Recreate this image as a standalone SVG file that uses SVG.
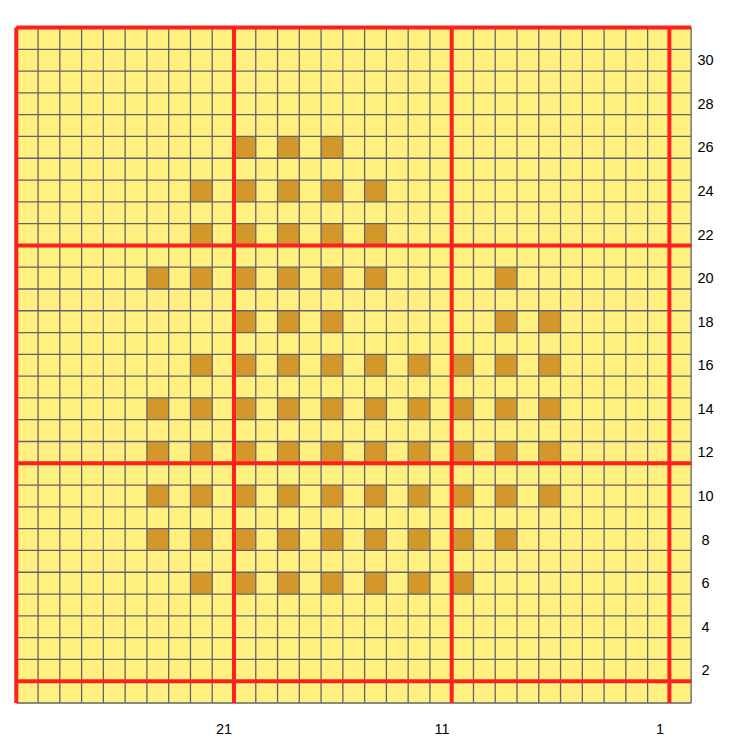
<svg xmlns="http://www.w3.org/2000/svg" width="731" height="747" viewBox="0 0 731 747">
<style>
.bg{fill:#fff07f}
.st{fill:#d4982a}
.grid{fill:none;stroke:#63636e;stroke-width:1.3}
.major{fill:none;stroke:#ff1f1f;stroke-width:4}
.lbl{font-family:"Liberation Sans",Arial,sans-serif;font-size:14.5px;fill:#000;text-anchor:middle}
</style>
<rect width="731" height="747" fill="#ffffff"/>
<g id="chart">
<rect class="bg" x="16.3" y="27.5" width="674.87" height="675.49"/>
<g id="stitches" class="st" transform="translate(16.3,27.5) scale(21.77,21.79)">
<rect x="10" y="5" width="1" height="1"/><rect x="12" y="5" width="1" height="1"/><rect x="14" y="5" width="1" height="1"/>
<rect x="8" y="7" width="1" height="1"/><rect x="10" y="7" width="1" height="1"/><rect x="12" y="7" width="1" height="1"/><rect x="14" y="7" width="1" height="1"/><rect x="16" y="7" width="1" height="1"/>
<rect x="8" y="9" width="1" height="1"/><rect x="10" y="9" width="1" height="1"/><rect x="12" y="9" width="1" height="1"/><rect x="14" y="9" width="1" height="1"/><rect x="16" y="9" width="1" height="1"/>
<rect x="6" y="11" width="1" height="1"/><rect x="8" y="11" width="1" height="1"/><rect x="10" y="11" width="1" height="1"/><rect x="12" y="11" width="1" height="1"/><rect x="14" y="11" width="1" height="1"/><rect x="16" y="11" width="1" height="1"/><rect x="22" y="11" width="1" height="1"/>
<rect x="10" y="13" width="1" height="1"/><rect x="12" y="13" width="1" height="1"/><rect x="14" y="13" width="1" height="1"/><rect x="22" y="13" width="1" height="1"/><rect x="24" y="13" width="1" height="1"/>
<rect x="8" y="15" width="1" height="1"/><rect x="10" y="15" width="1" height="1"/><rect x="12" y="15" width="1" height="1"/><rect x="14" y="15" width="1" height="1"/><rect x="16" y="15" width="1" height="1"/><rect x="18" y="15" width="1" height="1"/><rect x="20" y="15" width="1" height="1"/><rect x="22" y="15" width="1" height="1"/><rect x="24" y="15" width="1" height="1"/>
<rect x="6" y="17" width="1" height="1"/><rect x="8" y="17" width="1" height="1"/><rect x="10" y="17" width="1" height="1"/><rect x="12" y="17" width="1" height="1"/><rect x="14" y="17" width="1" height="1"/><rect x="16" y="17" width="1" height="1"/><rect x="18" y="17" width="1" height="1"/><rect x="20" y="17" width="1" height="1"/><rect x="22" y="17" width="1" height="1"/><rect x="24" y="17" width="1" height="1"/>
<rect x="6" y="19" width="1" height="1"/><rect x="8" y="19" width="1" height="1"/><rect x="10" y="19" width="1" height="1"/><rect x="12" y="19" width="1" height="1"/><rect x="14" y="19" width="1" height="1"/><rect x="16" y="19" width="1" height="1"/><rect x="18" y="19" width="1" height="1"/><rect x="20" y="19" width="1" height="1"/><rect x="22" y="19" width="1" height="1"/><rect x="24" y="19" width="1" height="1"/>
<rect x="6" y="21" width="1" height="1"/><rect x="8" y="21" width="1" height="1"/><rect x="10" y="21" width="1" height="1"/><rect x="12" y="21" width="1" height="1"/><rect x="14" y="21" width="1" height="1"/><rect x="16" y="21" width="1" height="1"/><rect x="18" y="21" width="1" height="1"/><rect x="20" y="21" width="1" height="1"/><rect x="22" y="21" width="1" height="1"/><rect x="24" y="21" width="1" height="1"/>
<rect x="6" y="23" width="1" height="1"/><rect x="8" y="23" width="1" height="1"/><rect x="10" y="23" width="1" height="1"/><rect x="12" y="23" width="1" height="1"/><rect x="14" y="23" width="1" height="1"/><rect x="16" y="23" width="1" height="1"/><rect x="18" y="23" width="1" height="1"/><rect x="20" y="23" width="1" height="1"/><rect x="22" y="23" width="1" height="1"/>
<rect x="8" y="25" width="1" height="1"/><rect x="10" y="25" width="1" height="1"/><rect x="12" y="25" width="1" height="1"/><rect x="14" y="25" width="1" height="1"/><rect x="16" y="25" width="1" height="1"/><rect x="18" y="25" width="1" height="1"/><rect x="20" y="25" width="1" height="1"/>
</g>
<path class="grid" d="M16.3 27.5V703M38.07 27.5V703M59.84 27.5V703M81.61 27.5V703M103.38 27.5V703M125.15 27.5V703M146.92 27.5V703M168.69 27.5V703M190.46 27.5V703M212.23 27.5V703M234 27.5V703M255.77 27.5V703M277.54 27.5V703M299.31 27.5V703M321.08 27.5V703M342.85 27.5V703M364.62 27.5V703M386.39 27.5V703M408.16 27.5V703M429.93 27.5V703M451.7 27.5V703M473.47 27.5V703M495.24 27.5V703M517.01 27.5V703M538.78 27.5V703M560.55 27.5V703M582.32 27.5V703M604.09 27.5V703M625.86 27.5V703M647.63 27.5V703M669.4 27.5V703M691.17 27.5V703M16.3 27.5H691.17M16.3 49.29H691.17M16.3 71.08H691.17M16.3 92.87H691.17M16.3 114.66H691.17M16.3 136.45H691.17M16.3 158.24H691.17M16.3 180.03H691.17M16.3 201.82H691.17M16.3 223.61H691.17M16.3 245.4H691.17M16.3 267.19H691.17M16.3 288.98H691.17M16.3 310.77H691.17M16.3 332.56H691.17M16.3 354.35H691.17M16.3 376.14H691.17M16.3 397.93H691.17M16.3 419.72H691.17M16.3 441.51H691.17M16.3 463.3H691.17M16.3 485.09H691.17M16.3 506.88H691.17M16.3 528.67H691.17M16.3 550.46H691.17M16.3 572.25H691.17M16.3 594.04H691.17M16.3 615.83H691.17M16.3 637.62H691.17M16.3 659.41H691.17M16.3 681.2H691.17M16.3 703H691.17"/>
<path class="major" d="M16.3 27.5V703M234 27.5V703M451.7 27.5V703M669.4 27.5V703M16.3 27.5H691.17M16.3 245.4H691.17M16.3 463.3H691.17M16.3 681.2H691.17"/>
</g>
<g id="row-labels" class="lbl">
<text x="705.5" y="65.2">30</text>
<text x="705.5" y="108.8">28</text>
<text x="705.5" y="152.4">26</text>
<text x="705.5" y="195.9">24</text>
<text x="705.5" y="239.5">22</text>
<text x="705.5" y="283.1">20</text>
<text x="705.5" y="326.7">18</text>
<text x="705.5" y="370.3">16</text>
<text x="705.5" y="413.8">14</text>
<text x="705.5" y="457.4">12</text>
<text x="705.5" y="501">10</text>
<text x="705.5" y="544.6">8</text>
<text x="705.5" y="588.2">6</text>
<text x="705.5" y="631.7">4</text>
<text x="705.5" y="675.3">2</text>
</g>
<g id="col-labels" class="lbl">
<text x="224" y="734">21</text>
<text x="442" y="734">11</text>
<text x="660" y="734">1</text>
</g>
</svg>
